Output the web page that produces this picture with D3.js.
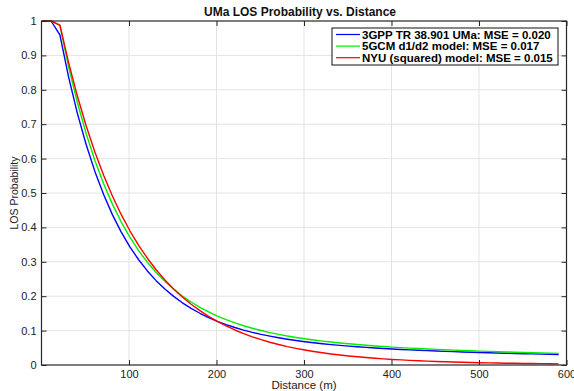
<!DOCTYPE html>
<html>
<head>
<meta charset="utf-8">
<script src="https://cdn.jsdelivr.net/npm/d3@7"></script>
<style>
  html, body { margin: 0; padding: 0; background: #fff; }
  svg { display: block; font-family: "Liberation Sans", Arial, Helvetica, sans-serif; }
</style>
</head>
<body>
<svg id="chart"></svg>
<script>
// distances (m) sampled on the plot
const distance = [1, 11, 21, 31, 41, 51, 61, 71, 81, 91,
  101, 111, 121, 131, 141, 151, 161, 171, 181, 191,
  201, 211, 221, 231, 241, 251, 261, 271, 281, 291,
  301, 311, 321, 331, 341, 351, 361, 371, 381, 391,
  401, 411, 421, 431, 441, 451, 461, 471, 481, 491,
  501, 511, 521, 531, 541, 551, 561, 571, 581, 591];

// 3GPP TR 38.901 UMa
const gppValues = [1, 1, 0.9595, 0.8370, 0.7316, 0.6409, 0.5628, 0.4954, 0.4372, 0.3870,
  0.3436, 0.3060, 0.2735, 0.2452, 0.2207, 0.1994, 0.1808, 0.1645, 0.1504, 0.1379,
  0.1270, 0.1174, 0.1090, 0.1015, 0.0949, 0.0890, 0.0838, 0.0791, 0.0749, 0.0711,
  0.0677, 0.0646, 0.0619, 0.0593, 0.0570, 0.0549, 0.0530, 0.0512, 0.0495, 0.0480,
  0.0465, 0.0452, 0.0440, 0.0428, 0.0417, 0.0407, 0.0397, 0.0388, 0.0379, 0.0371,
  0.0363, 0.0355, 0.0348, 0.0341, 0.0334, 0.0328, 0.0322, 0.0316, 0.0311, 0.0305];

// 5GCM d1/d2 model
const gcmValues = [1, 1, 0.9870, 0.8670, 0.7630, 0.6728, 0.5946, 0.5267, 0.4676, 0.4163,
  0.3716, 0.3327, 0.2987, 0.2691, 0.2432, 0.2205, 0.2006, 0.1832, 0.1678, 0.1543,
  0.1423, 0.1318, 0.1225, 0.1142, 0.1068, 0.1002, 0.0943, 0.0891, 0.0843, 0.0801,
  0.0762, 0.0727, 0.0695, 0.0667, 0.0640, 0.0616, 0.0594, 0.0573, 0.0554, 0.0537,
  0.0521, 0.0505, 0.0491, 0.0478, 0.0465, 0.0454, 0.0443, 0.0432, 0.0422, 0.0413,
  0.0404, 0.0396, 0.0387, 0.0380, 0.0372, 0.0365, 0.0358, 0.0352, 0.0345, 0.0339];

// NYU (squared) model
const nyuValues = [1, 1, 0.9883, 0.8789, 0.7818, 0.6957, 0.6193, 0.5514, 0.4912, 0.4377,
  0.3902, 0.3479, 0.3104, 0.2770, 0.2474, 0.2210, 0.1975, 0.1766, 0.1580, 0.1414,
  0.1267, 0.1135, 0.1018, 0.0913, 0.0820, 0.0737, 0.0662, 0.0596, 0.0536, 0.0483,
  0.0436, 0.0393, 0.0355, 0.0321, 0.0290, 0.0263, 0.0238, 0.0216, 0.0196, 0.0178,
  0.0162, 0.0148, 0.0135, 0.0123, 0.0112, 0.0103, 0.0094, 0.0086, 0.0079, 0.0073,
  0.0067, 0.0062, 0.0057, 0.0053, 0.0049, 0.0045, 0.0042, 0.0039, 0.0036, 0.0034];

const seriesNames = [
  "3GPP TR 38.901 UMa: MSE = 0.020",
  "5GCM d1/d2 model: MSE = 0.017",
  "NYU (squared) model: MSE = 0.015"
];
const seriesColors = ["#0000ff", "#00ee00", "#ff0000"];

const xTicks = [100, 200, 300, 400, 500, 600];
const yTicks = [0, 0.1, 0.2, 0.3, 0.4, 0.5, 0.6, 0.7, 0.8, 0.9, 1];

// kích thước
const width = 574;
const height = 391;
const margin = { top: 21, right: 7.5, bottom: 26, left: 41.5 };
const innerW = width - margin.left - margin.right;
const innerH = height - margin.top - margin.bottom;

const svg = d3.select("#chart").attr("width", width).attr("height", height);

const x = d3.scaleLinear().domain([0, 600]).range([margin.left, margin.left + innerW]);
const y = d3.scaleLinear().domain([0, 1]).range([margin.top + innerH, margin.top]);

const axisColor = "#262626";
const gridColor = "#e3e3e3";

// grid
const grid = svg.append("g");
grid.selectAll(".gx")
  .data(xTicks.filter(t => t < 600))
  .join("line")
  .attr("x1", d => x(d)).attr("x2", d => x(d))
  .attr("y1", y(0)).attr("y2", y(1))
  .attr("stroke", gridColor).attr("stroke-width", 1);
grid.selectAll(".gy")
  .data(yTicks.filter(t => t > 0 && t < 1))
  .join("line")
  .attr("x1", x(0)).attr("x2", x(600))
  .attr("y1", d => y(d)).attr("y2", d => y(d))
  .attr("stroke", gridColor).attr("stroke-width", 1);

// curves
const series = [gppValues, gcmValues, nyuValues];
const line = d3.line()
  .x((d, i) => x(distance[i]))
  .y(d => y(d));

svg.append("g")
  .selectAll("path")
  .data(series)
  .join("path")
  .attr("d", d => line(d))
  .attr("fill", "none")
  .attr("stroke", (d, i) => seriesColors[i])
  .attr("stroke-width", 1.4)
  .attr("stroke-linejoin", "round");

// axes (ticks inside, like matlab)
const tickStyle = g => {
  g.select(".domain").remove();
  g.selectAll(".tick line").attr("stroke", axisColor);
  g.selectAll(".tick text")
    .attr("fill", "#222")
    .style("font-size", "11px");
};

svg.append("g")
  .attr("transform", `translate(0,${y(0)})`)
  .call(d3.axisBottom(x).tickValues(xTicks).tickSizeInner(-5).tickSizeOuter(0).tickPadding(5))
  .call(tickStyle);

svg.append("g")
  .attr("transform", `translate(0,${y(1)})`)
  .call(d3.axisTop(x).tickValues(xTicks).tickSizeInner(-5).tickSizeOuter(0).tickFormat(""))
  .call(tickStyle);

svg.append("g")
  .attr("transform", `translate(${x(0)},0)`)
  .call(d3.axisLeft(y).tickValues(yTicks).tickSizeInner(-5).tickSizeOuter(0).tickPadding(5).tickFormat(d3.format("")))
  .call(tickStyle);

svg.append("g")
  .attr("transform", `translate(${x(600)},0)`)
  .call(d3.axisRight(y).tickValues(yTicks).tickSizeInner(-5).tickSizeOuter(0).tickFormat(""))
  .call(tickStyle);

// khung
svg.append("rect")
  .attr("x", x(0)).attr("y", y(1))
  .attr("width", x(600) - x(0)).attr("height", y(0) - y(1))
  .attr("fill", "none")
  .attr("stroke", axisColor)
  .attr("stroke-width", 1.2);

// tiêu đề
svg.append("text")
  .attr("x", 300)
  .attr("y", 16)
  .attr("text-anchor", "middle")
  .style("font-weight", "bold")
  .style("font-size", "12px")
  .attr("fill", "#111")
  .text("UMa LOS Probability vs. Distance");

svg.append("text")
  .attr("x", (x(0) + x(600)) / 2)
  .attr("y", 389)
  .attr("text-anchor", "middle")
  .style("font-size", "11.5px")
  .attr("fill", "#222")
  .text("Distance (m)");

svg.append("text")
  .attr("transform", `translate(18,${(y(0) + y(1)) / 2}) rotate(-90)`)
  .attr("text-anchor", "middle")
  .style("font-size", "10.5px")
  .attr("fill", "#222")
  .text("LOS Probability");

// legend
const legend = svg.append("g").attr("transform", "translate(332,28)");
legend.append("rect")
  .attr("width", 226).attr("height", 37)
  .attr("fill", "#fff")
  .attr("stroke", "#111")
  .attr("stroke-width", 1);

const items = legend.selectAll(".item")
  .data(seriesNames)
  .join("g")
  .attr("transform", (d, i) => `translate(0,${6.5 + i * 11.6})`);

items.append("line")
  .attr("x1", 4).attr("x2", 28)
  .attr("stroke", (d, i) => seriesColors[i])
  .attr("stroke-width", 1.2);

items.append("text")
  .attr("x", 30)
  .attr("y", 4)
  .style("font-size", "11.5px")
  .style("font-weight", "bold")
  .attr("fill", "#000")
  .text(d => d);
</script>
</body>
</html>
